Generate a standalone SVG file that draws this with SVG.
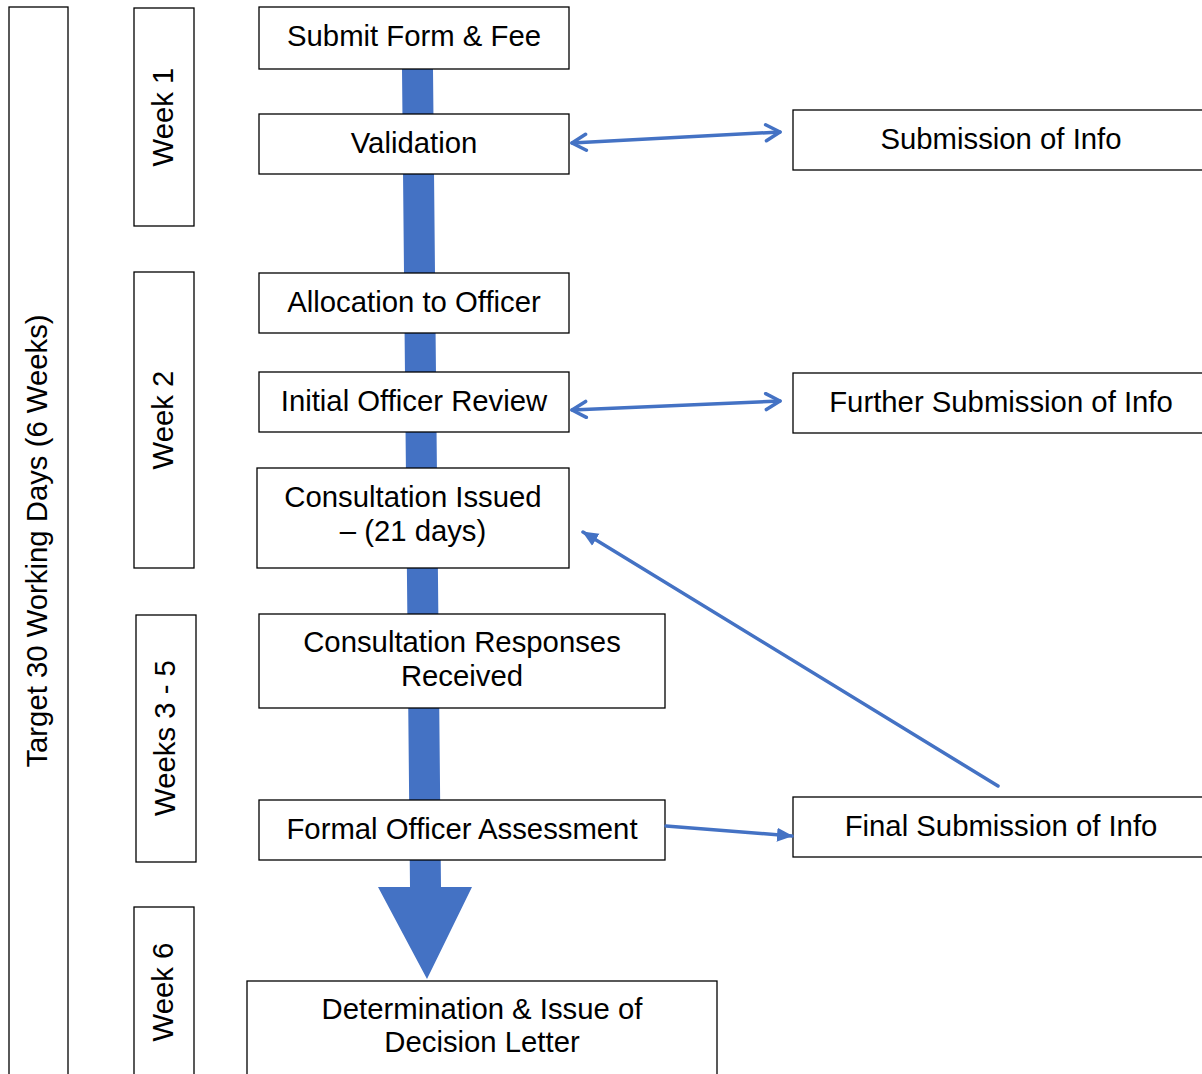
<svg xmlns="http://www.w3.org/2000/svg" width="1202" height="1074" viewBox="0 0 1202 1074">
<defs>
<style>
.box{fill:#fff;stroke:#000;stroke-width:1.3}
.t{font-family:"Liberation Sans",Arial,sans-serif;font-size:29.3px;fill:#000;text-anchor:middle}
.c{stroke:#4472C4;stroke-width:3.5;fill:none;stroke-linecap:round}
</style>
<marker id="open" viewBox="0 0 20 20" refX="17" refY="10" markerWidth="20" markerHeight="20" markerUnits="userSpaceOnUse" orient="auto-start-reverse">
<path d="M3,2 L17,10 L3,18" fill="none" stroke="#4472C4" stroke-width="3.5" stroke-linecap="round" stroke-linejoin="round"/>
</marker>
<marker id="tri" viewBox="0 0 16 16" refX="15" refY="8" markerWidth="16" markerHeight="16" markerUnits="userSpaceOnUse" orient="auto">
<path d="M0,1 L16,8 L0,15 Z" fill="#4472C4"/>
</marker>
</defs>
<rect width="1202" height="1074" fill="#fff"/>

<g id="main-flow-arrow">
<polygon points="402,69 433,69 441,887 472,887 427,979 378,887 410,887" fill="#4472C4"/>
</g>

<g id="target-30-days"><rect class="box" x="9" y="7" width="59" height="1075"/><text class="t" transform="translate(47,541) rotate(-90)">Target 30 Working Days (6 Weeks)</text></g>
<g id="week1"><rect class="box" x="134" y="8" width="60" height="218"/><text class="t" transform="translate(173,117) rotate(-90)">Week 1</text></g>
<g id="week2"><rect class="box" x="134" y="272" width="60" height="296"/><text class="t" transform="translate(173,420) rotate(-90)">Week 2</text></g>
<g id="weeks3-5"><rect class="box" x="136" y="615" width="60" height="247"/><text class="t" transform="translate(175,738) rotate(-90)">Weeks 3 - 5</text></g>
<g id="week6"><rect class="box" x="134" y="907" width="60" height="175"/><text class="t" transform="translate(173,992) rotate(-90)">Week 6</text></g>

<g id="submit"><rect class="box" x="259" y="7" width="310" height="62"/><text class="t" x="414" y="46">Submit Form &amp; Fee</text></g>
<g id="validation"><rect class="box" x="259" y="114" width="310" height="60"/><text class="t" x="414" y="153">Validation</text></g>
<g id="submission-info"><rect class="box" x="793" y="110" width="420" height="60"/><text class="t" x="1001" y="149">Submission of Info</text></g>
<g id="allocation"><rect class="box" x="259" y="273" width="310" height="60"/><text class="t" x="414" y="312">Allocation to Officer</text></g>
<g id="initial-review"><rect class="box" x="259" y="372" width="310" height="60"/><text class="t" x="414" y="411">Initial Officer Review</text></g>
<g id="further-info"><rect class="box" x="793" y="373" width="420" height="60"/><text class="t" x="1001" y="412">Further Submission of Info</text></g>
<g id="consultation-issued"><rect class="box" x="257" y="468" width="312" height="100"/><text class="t" x="413" y="507">Consultation Issued</text><text class="t" x="413" y="541">– (21 days)</text></g>
<g id="consultation-responses"><rect class="box" x="259" y="614" width="406" height="94"/><text class="t" x="462" y="652">Consultation Responses</text><text class="t" x="462" y="686">Received</text></g>
<g id="formal-assessment"><rect class="box" x="259" y="800" width="406" height="60"/><text class="t" x="462" y="839">Formal Officer Assessment</text></g>
<g id="final-info"><rect class="box" x="793" y="797" width="420" height="60"/><text class="t" x="1001" y="836">Final Submission of Info</text></g>
<g id="determination"><rect class="box" x="247" y="981" width="470" height="100"/><text class="t" x="482" y="1019">Determination &amp; Issue of</text><text class="t" x="482" y="1052">Decision Letter</text></g>

<g id="connectors">
<line class="c" x1="572" y1="143" x2="780" y2="132" marker-start="url(#open)" marker-end="url(#open)"/>
<line class="c" x1="572" y1="410" x2="780" y2="401" marker-start="url(#open)" marker-end="url(#open)"/>
<line class="c" x1="998" y1="786" x2="583" y2="532" marker-end="url(#tri)"/>
<line class="c" x1="666" y1="826" x2="792" y2="836" marker-end="url(#tri)"/>
</g>
</svg>
